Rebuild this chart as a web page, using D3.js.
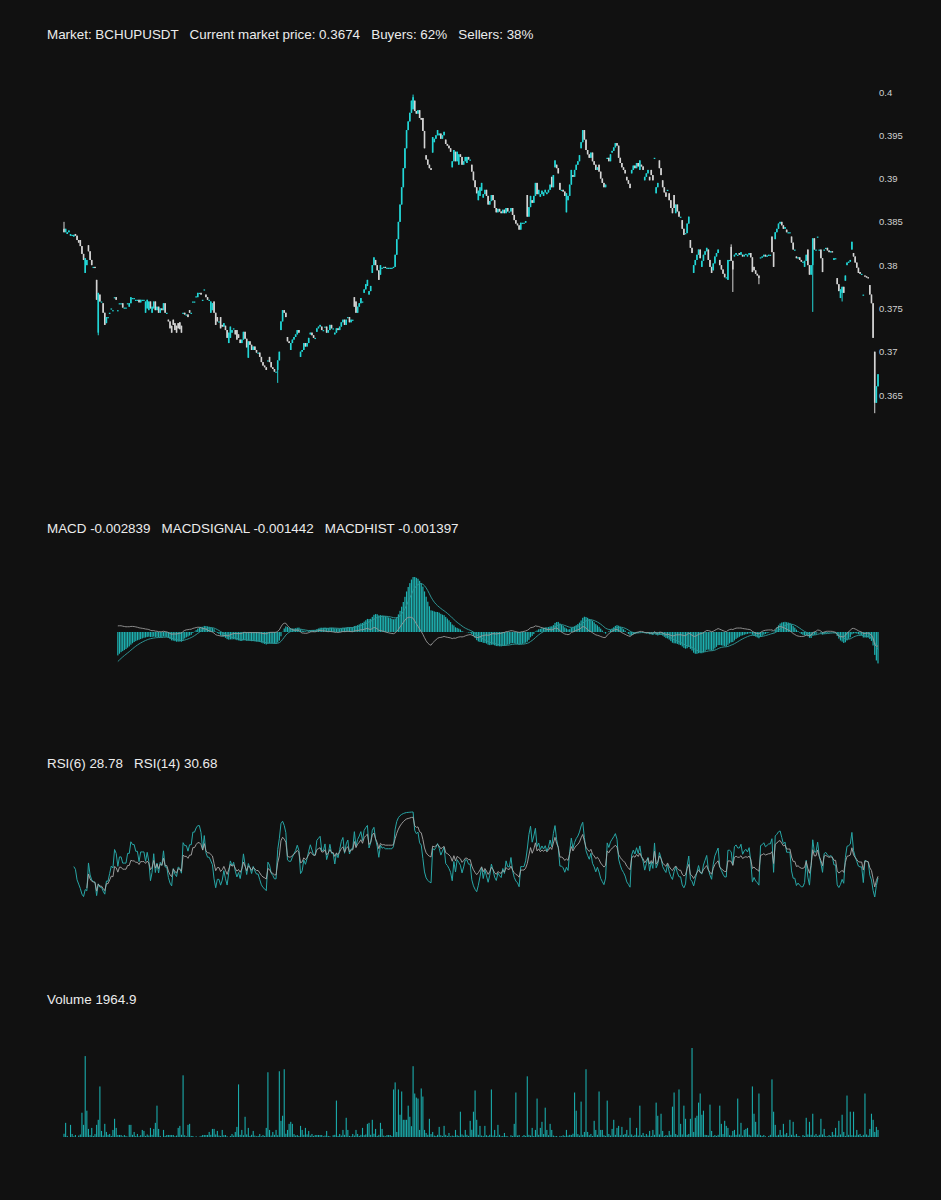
<!DOCTYPE html>
<html>
<head>
<meta charset="utf-8">
<script src="https://cdn.jsdelivr.net/npm/d3@7"></script>
<style>
  body { margin: 0; background: #111111; }
  text { font-family: "Liberation Sans", Arial, sans-serif; }
</style>
</head>
<body>
<div id="container"></div>
<script>
/* CONSTANTS AND GLOBALS */
const width = 941,
  height = 1200;

const upColor = "#22d6d6",
  downColor = "#d4d4d4",
  tealColor = "#1eb3b3",
  textColor = "#ececec";

/* DATA */
const market = "BCHUPUSDT";
const buyers = 62, sellers = 38;

// candle opens and closes, in units of 0.0001
const opens = [
  3842, 3838, 3836, 3838, 3834, 3835, 3833, 3836, 3834, 3829,
  3829, 3822, 3813, 3791, 3800, 3823, 3816, 3806, 3798, 3798,
  3783, 3722, 3766, 3758, 3756, 3745, 3733, 3740, 3745, 3750,
  3748, 3763, 3763, 3748, 3756, 3756, 3756, 3751, 3751, 3756,
  3752, 3756, 3762, 3762, 3760, 3760, 3760, 3757, 3760, 3760,
  3745, 3750, 3748, 3758, 3745, 3750, 3758, 3748, 3752, 3745,
  3750, 3748, 3756, 3745, 3737, 3735, 3730, 3737, 3733, 3730,
  3733, 3734, 3730, 3745, 3745, 3743, 3743, 3748, 3745, 3758,
  3758, 3764, 3763, 3768, 3768, 3760, 3772, 3766, 3763, 3760,
  3745, 3748, 3758, 3745, 3740, 3735, 3740, 3731, 3729, 3730,
  3725, 3710, 3716, 3722, 3727, 3725, 3725, 3720, 3714, 3710,
  3714, 3723, 3715, 3693, 3712, 3708, 3702, 3706, 3702, 3699,
  3699, 3694, 3688, 3684, 3682, 3690, 3694, 3688, 3682, 3680,
  3677, 3679, 3690, 3725, 3735, 3748, 3745, 3717, 3712, 3702,
  3710, 3714, 3717, 3720, 3725, 3694, 3700, 3702, 3710, 3706,
  3710, 3720, 3722, 3719, 3716, 3723, 3727, 3729, 3729, 3725,
  3729, 3729, 3722, 3725, 3731, 3727, 3720, 3722, 3727, 3725,
  3729, 3734, 3737, 3731, 3740, 3740, 3734, 3737, 3763, 3758,
  3745, 3752, 3756, 3758, 3768, 3772, 3776, 3766, 3770, 3791,
  3800, 3806, 3800, 3794, 3789, 3797, 3797, 3798, 3797, 3797,
  3797, 3797, 3797, 3798, 3812, 3830, 3850, 3870, 3890, 3912,
  3935, 3956, 3966, 3976, 3980, 3990, 3978, 3975, 3979, 3970,
  3970, 3955, 3927, 3922, 3916, 3912, 3930, 3942, 3946, 3950,
  3950, 3952, 3946, 3950, 3945, 3940, 3938, 3935, 3913, 3920,
  3931, 3920, 3916, 3928, 3925, 3916, 3920, 3918, 3925, 3922,
  3916, 3908, 3898, 3890, 3875, 3880, 3886, 3878, 3882, 3887,
  3880, 3870, 3874, 3881, 3875, 3866, 3861, 3865, 3862, 3860,
  3864, 3860, 3866, 3862, 3862, 3866, 3858, 3852, 3848, 3846,
  3841, 3849, 3849, 3849, 3881, 3856, 3867, 3875, 3872, 3880,
  3895, 3882, 3879, 3882, 3880, 3884, 3882, 3884, 3887, 3902,
  3890, 3913, 3916, 3912, 3895, 3887, 3887, 3885, 3861, 3875,
  3880, 3893, 3904, 3902, 3910, 3916, 3920, 3935, 3942, 3956,
  3945, 3933, 3928, 3924, 3930, 3920, 3916, 3910, 3916, 3908,
  3900, 3895, 3890, 3924, 3924, 3920, 3930, 3932, 3936, 3941,
  3938, 3924, 3918, 3913, 3910, 3902, 3898, 3894, 3906, 3910,
  3915, 3912, 3918, 3910, 3916, 3914, 3898, 3902, 3906, 3902,
  3910, 3904, 3924, 3883, 3890, 3921, 3912, 3898, 3890, 3884,
  3887, 3883, 3875, 3866, 3881, 3860, 3870, 3862, 3856, 3852,
  3842, 3837, 3837, 3848, 3829, 3820, 3791, 3800, 3806, 3812,
  3818, 3798, 3805, 3812, 3816, 3818, 3806, 3798, 3794, 3802,
  3810, 3814, 3806, 3800, 3795, 3790, 3786, 3783, 3806, 3821,
  3805, 3810, 3812, 3812, 3814, 3812, 3812, 3810, 3812, 3810,
  3812, 3814, 3809, 3798, 3794, 3790, 3788, 3809, 3809, 3810,
  3812, 3810, 3811, 3812, 3833, 3815, 3830, 3838, 3842, 3848,
  3850, 3846, 3842, 3841, 3838, 3838, 3833, 3826, 3818, 3810,
  3808, 3809, 3806, 3804, 3798, 3805, 3818, 3800, 3789, 3800,
  3831, 3818, 3833, 3818, 3818, 3808, 3818, 3820, 3820, 3817,
  3815, 3816, 3806, 3808, 3785, 3778, 3762, 3768, 3775, 3782,
  3800, 3803, 3804, 3818, 3814, 3810, 3803, 3797, 3792, 3790,
  3766, 3788, 3787, 3786, 3777, 3766, 3756, 3700, 3641, 3660
];

const closes = [
  3838, 3842, 3838, 3840, 3836, 3835, 3835, 3834, 3829, 3826,
  3822, 3813, 3806, 3808, 3806, 3816, 3806, 3800, 3798, 3797,
  3760, 3768, 3758, 3758, 3745, 3731, 3740, 3740, 3745, 3750,
  3748, 3763, 3760, 3748, 3756, 3756, 3751, 3751, 3751, 3756,
  3756, 3763, 3762, 3762, 3760, 3760, 3757, 3760, 3760, 3760,
  3758, 3760, 3758, 3750, 3752, 3758, 3748, 3752, 3745, 3750,
  3748, 3756, 3745, 3745, 3735, 3727, 3722, 3731, 3725, 3722,
  3727, 3726, 3722, 3745, 3743, 3743, 3740, 3745, 3745, 3758,
  3758, 3764, 3768, 3768, 3766, 3760, 3772, 3763, 3760, 3760,
  3758, 3756, 3745, 3731, 3735, 3735, 3727, 3729, 3733, 3725,
  3716, 3722, 3729, 3725, 3727, 3720, 3714, 3716, 3710, 3714,
  3723, 3715, 3705, 3712, 3708, 3702, 3706, 3702, 3699, 3699,
  3694, 3688, 3684, 3682, 3679, 3690, 3688, 3682, 3680, 3677,
  3677, 3690, 3700, 3735, 3748, 3745, 3740, 3712, 3710, 3710,
  3714, 3717, 3720, 3725, 3722, 3700, 3702, 3710, 3706, 3710,
  3716, 3722, 3719, 3716, 3716, 3727, 3729, 3731, 3725, 3725,
  3729, 3722, 3725, 3731, 3727, 3727, 3722, 3727, 3725, 3729,
  3734, 3737, 3731, 3737, 3740, 3734, 3737, 3737, 3752, 3745,
  3752, 3756, 3762, 3758, 3772, 3778, 3783, 3770, 3776, 3800,
  3809, 3800, 3794, 3783, 3800, 3797, 3798, 3797, 3797, 3797,
  3797, 3797, 3798, 3812, 3830, 3850, 3870, 3890, 3912, 3935,
  3956, 3966, 3976, 3990, 3994, 3978, 3975, 3979, 3970, 3968,
  3955, 3935, 3922, 3916, 3912, 3910, 3948, 3946, 3950, 3956,
  3952, 3946, 3950, 3954, 3940, 3938, 3935, 3931, 3920, 3933,
  3920, 3931, 3928, 3925, 3916, 3920, 3925, 3925, 3922, 3922,
  3908, 3898, 3890, 3883, 3886, 3890, 3895, 3882, 3887, 3880,
  3870, 3874, 3881, 3875, 3866, 3861, 3865, 3862, 3860, 3864,
  3860, 3866, 3862, 3862, 3866, 3858, 3852, 3848, 3846, 3841,
  3849, 3849, 3849, 3851, 3856, 3867, 3880, 3872, 3880, 3895,
  3882, 3887, 3882, 3886, 3884, 3887, 3884, 3887, 3893, 3890,
  3904, 3921, 3912, 3906, 3887, 3887, 3885, 3880, 3883, 3880,
  3893, 3910, 3902, 3910, 3916, 3920, 3927, 3942, 3956, 3945,
  3933, 3928, 3924, 3930, 3920, 3916, 3910, 3913, 3908, 3900,
  3895, 3890, 3893, 3924, 3920, 3928, 3932, 3936, 3941, 3938,
  3924, 3918, 3913, 3910, 3906, 3898, 3894, 3889, 3910, 3915,
  3912, 3918, 3914, 3921, 3914, 3910, 3902, 3906, 3910, 3898,
  3904, 3898, 3924, 3890, 3895, 3912, 3904, 3890, 3884, 3879,
  3887, 3875, 3866, 3860, 3866, 3870, 3862, 3856, 3856, 3842,
  3835, 3837, 3848, 3856, 3820, 3814, 3800, 3806, 3812, 3818,
  3808, 3805, 3812, 3816, 3820, 3806, 3798, 3791, 3802, 3810,
  3814, 3818, 3800, 3795, 3790, 3786, 3786, 3806, 3806, 3805,
  3795, 3812, 3814, 3812, 3812, 3815, 3810, 3812, 3813, 3812,
  3814, 3809, 3792, 3794, 3790, 3788, 3785, 3809, 3810, 3812,
  3810, 3811, 3812, 3812, 3815, 3798, 3838, 3842, 3848, 3850,
  3846, 3842, 3844, 3838, 3838, 3838, 3826, 3818, 3818, 3808,
  3809, 3806, 3804, 3804, 3805, 3812, 3800, 3789, 3800, 3831,
  3818, 3818, 3833, 3818, 3808, 3792, 3818, 3820, 3817, 3815,
  3816, 3815, 3808, 3808, 3778, 3770, 3772, 3775, 3768, 3788,
  3803, 3804, 3806, 3827, 3810, 3803, 3797, 3791, 3790, 3790,
  3766, 3787, 3786, 3785, 3766, 3756, 3716, 3641, 3660, 3674
];

// candles whose wicks stick out past the body: [index, price]
const highWicks = [[0, 3850], [214, 3997], [409, 3824]];
const lowWicks = [[21, 3719], [131, 3664], [410, 3769], [426, 3778],
  [459, 3746], [477, 3758], [497, 3629]];

const volumes = [
  900, 3920, 300, 0, 3360, 840, 200, 560, 0, 400,
  700, 6720, 3360, 22400, 7280, 2240, 500, 2520, 300, 800,
  3360, 4760, 14000, 1680, 400, 3640, 1400, 600, 840, 300,
  1960, 5040, 2520, 560, 560, 560, 200, 560, 300, 100,
  3360, 3360, 600, 1400, 300, 840, 200, 500, 1960, 1680,
  300, 700, 400, 2520, 600, 2240, 3920, 8680, 2240, 300,
  0, 1960, 300, 560, 560, 560, 560, 560, 200, 400,
  2520, 3080, 600, 17080, 500, 200, 3360, 3640, 300, 280,
  0, 200, 0, 100, 300, 560, 560, 560, 560, 1400,
  600, 2240, 2240, 700, 1680, 400, 300, 1960, 500, 560,
  200, 0, 300, 840, 400, 1400, 2800, 14560, 600, 1960,
  500, 5600, 700, 2520, 300, 600, 1680, 400, 200, 300,
  840, 200, 560, 300, 2520, 17920, 1960, 400, 1400, 600,
  1960, 500, 18200, 4480, 5880, 18760, 900, 1960, 3640, 4200,
  3640, 800, 400, 560, 300, 3080, 1960, 600, 2520, 700,
  1680, 400, 840, 300, 560, 560, 560, 560, 560, 200,
  400, 1680, 300, 200, 0, 500, 600, 10080, 300, 840,
  400, 1960, 600, 5320, 1960, 300, 200, 840, 400, 1960,
  840, 300, 600, 2520, 500, 700, 3640, 3920, 600, 4760,
  900, 2240, 300, 600, 3920, 2240, 400, 200, 560, 560,
  560, 300, 13160, 15120, 1400, 13160, 6160, 12600, 4760, 4760,
  4760, 8680, 5600, 3000, 19600, 12040, 10920, 10640, 1960, 13440,
  11200, 1960, 1120, 600, 5040, 800, 1400, 400, 300, 600,
  2800, 500, 300, 3080, 600, 300, 1120, 200, 400, 300,
  1960, 500, 300, 7000, 700, 400, 1960, 600, 300, 4480,
  2000, 7000, 12880, 4760, 600, 3080, 400, 300, 3080, 500,
  300, 600, 13160, 400, 1960, 300, 3360, 600, 200, 300,
  1120, 300, 200, 0, 500, 300, 3640, 12320, 400, 560,
  0, 200, 560, 300, 16800, 600, 400, 2520, 300, 1960,
  10640, 600, 2520, 4200, 800, 8120, 1960, 500, 3640, 1960,
  400, 200, 280, 0, 300, 200, 500, 300, 1960, 400,
  600, 560, 900, 12320, 7280, 800, 400, 9800, 600, 1400,
  18760, 1400, 500, 840, 300, 4480, 1960, 600, 12600, 1960,
  1960, 500, 300, 10080, 840, 400, 2240, 4760, 600, 2520,
  3080, 500, 2800, 600, 840, 1960, 400, 5320, 700, 300,
  600, 2520, 400, 8680, 500, 1120, 300, 840, 400, 1680,
  300, 1960, 600, 9520, 5880, 700, 6440, 1680, 300, 560,
  400, 1680, 600, 8400, 12320, 840, 500, 13160, 3640, 700,
  8680, 5040, 600, 840, 5040, 24640, 1400, 5320, 5880, 9520,
  12040, 6160, 7280, 600, 560, 400, 8960, 1680, 300, 560,
  300, 600, 8680, 3640, 800, 4480, 3080, 2520, 500, 400,
  1680, 1960, 600, 10640, 700, 3920, 400, 1960, 2240, 2520,
  600, 400, 14000, 6440, 4200, 700, 12040, 500, 300, 560,
  200, 0, 300, 600, 15960, 7000, 3360, 400, 600, 1960,
  500, 3640, 700, 1120, 300, 4760, 600, 4200, 400, 840,
  300, 200, 0, 560, 300, 5320, 700, 4200, 600, 6440,
  400, 840, 300, 600, 5040, 700, 2240, 300, 200, 560,
  300, 1400, 600, 2520, 400, 4480, 700, 6160, 1400, 300,
  11480, 600, 7000, 500, 7000, 400, 1960, 600, 840, 300,
  600, 12040, 700, 400, 2240, 6440, 4760, 1400, 2800, 1964.9
];

// latest indicator readings shown in the panel titles
const macdLatest = ["-0.002839", "-0.001442", "-0.001397"];
const rsiLatest = ["28.78", "30.68"];

const priceTicks = [0.365, 0.37, 0.375, 0.38, 0.385, 0.39, 0.395, 0.4];

/* BUILD CANDLES */
const prices = closes.map(d => d / 10000);
const candles = prices.map((c, i) => {
  const o = opens[i] / 10000;
  return { i, open: o, close: c, high: Math.max(o, c), low: Math.min(o, c) };
});
highWicks.forEach(([i, p]) => candles[i].high = p / 10000);
lowWicks.forEach(([i, p]) => candles[i].low = p / 10000);

/* INDICATORS */
// EMA seeded with the mean of its first n values
function ema(values, n, start) {
  const out = values.map(() => null);
  const k = 2 / (n + 1);
  let prev = d3.mean(values.slice(start, start + n));
  out[start + n - 1] = prev;
  for (let i = start + n; i < values.length; i++) {
    prev = values[i] * k + prev * (1 - k);
    out[i] = prev;
  }
  return out;
}

function rsi(values, n) {
  const out = values.map(() => null);
  let gain = 0, loss = 0;
  for (let i = 1; i <= n; i++) {
    const ch = values[i] - values[i - 1];
    if (ch > 0) gain += ch; else loss -= ch;
  }
  gain /= n; loss /= n;
  out[n] = loss === 0 ? 100 : 100 - 100 / (1 + gain / loss);
  for (let i = n + 1; i < values.length; i++) {
    const ch = values[i] - values[i - 1];
    gain = (gain * (n - 1) + Math.max(ch, 0)) / n;
    loss = (loss * (n - 1) + Math.max(-ch, 0)) / n;
    out[i] = loss === 0 ? 100 : 100 - 100 / (1 + gain / loss);
  }
  return out;
}

const fast = ema(prices, 12, 0),
  slow = ema(prices, 26, 0);
const macdRaw = prices.map((p, i) => (slow[i] == null ? null : fast[i] - slow[i]));
const signalRaw = ema(macdRaw, 9, 25);
const firstMacd = 33;
const macd = macdRaw.map((v, i) => (i < firstMacd ? null : v));
const signal = signalRaw.map((v, i) => (i < firstMacd ? null : v));
const hist = macd.map((v, i) => (v == null ? null : v - signal[i]));

const rsi6 = rsi(closes, 6),
  rsi14 = rsi(closes, 14);

/* SVG */
const svg = d3.select("#container")
  .append("svg")
  .attr("width", width)
  .attr("height", height)
  .style("background", "#111111");

const x = d3.scaleLinear()
  .domain([0, closes.length - 1])
  .range([64, 878]);

// titles
const titles = [
  { y: 39, text: `Market: ${market}   Current market price: ${prices[prices.length - 1].toFixed(4)}   Buyers: ${buyers}%   Sellers: ${sellers}%` },
  { y: 533, text: `MACD ${macdLatest[0]}   MACDSIGNAL ${macdLatest[1]}   MACDHIST ${macdLatest[2]}` },
  { y: 768, text: `RSI(6) ${rsiLatest[0]}   RSI(14) ${rsiLatest[1]}` },
  { y: 1004, text: `Volume ${volumes[volumes.length - 1]}` }
];
svg.selectAll(".title")
  .data(titles)
  .join("text")
  .attr("class", "title")
  .attr("x", 47)
  .attr("y", d => d.y)
  .attr("fill", textColor)
  .style("font-size", "13.4px")
  .style("white-space", "pre")
  .text(d => d.text);

/* PRICE PANEL */
const yPrice = d3.scaleLinear()
  .domain([0.365, 0.4])
  .range([395, 92]);

const priceAxis = svg.append("g")
  .attr("transform", "translate(878,0)")
  .call(d3.axisRight(yPrice)
    .tickValues(priceTicks)
    .tickSize(0)
    .tickPadding(1)
    .tickFormat(d => String(+d.toFixed(3))));
priceAxis.select(".domain").remove();
priceAxis.selectAll("text")
  .attr("fill", "#d0d0d0")
  .style("font-size", "9.5px")
  .style("font-family", "Liberation Sans, Arial, sans-serif");

const candle = svg.append("g").attr("class", "candles")
  .selectAll("g")
  .data(candles)
  .join("g")
  .attr("fill", d => (d.close >= d.open ? upColor : downColor))
  .attr("stroke", d => (d.close >= d.open ? upColor : downColor));

candle.append("line")
  .attr("x1", d => x(d.i))
  .attr("x2", d => x(d.i))
  .attr("y1", d => yPrice(d.high))
  .attr("y2", d => yPrice(d.low))
  .attr("stroke-width", 1);

candle.append("rect")
  .attr("stroke", "none")
  .attr("x", d => x(d.i) - 0.8)
  .attr("width", 1.6)
  .attr("y", d => yPrice(Math.max(d.open, d.close)))
  .attr("height", d => Math.max(1.2, yPrice(Math.min(d.open, d.close)) - yPrice(Math.max(d.open, d.close))));

/* MACD PANEL */
const yMacd = d3.scaleLinear()
  .domain([0, d3.max(macd)])
  .range([632, 577]);

svg.append("g")
  .selectAll("rect")
  .data(macd.map((v, i) => ({ i, v })).filter(d => d.v != null))
  .join("rect")
  .attr("x", d => x(d.i) - 0.6)
  .attr("width", 1.2)
  .attr("y", d => Math.min(yMacd(0), yMacd(d.v)))
  .attr("height", d => Math.abs(yMacd(d.v) - yMacd(0)))
  .attr("fill", tealColor);

const macdLine = d3.line()
  .defined(d => d != null)
  .x((d, i) => x(i))
  .y(d => yMacd(d));

svg.append("path")
  .attr("d", macdLine(signal))
  .attr("fill", "none")
  .attr("stroke", "#2f9393")
  .attr("stroke-width", 1);

svg.append("path")
  .attr("d", macdLine(hist))
  .attr("fill", "none")
  .attr("stroke", "#9a9a9a")
  .attr("stroke-width", 0.9);

/* RSI PANEL */
const yRsi = d3.scaleLinear()
  .domain(d3.extent(rsi6.concat(rsi14).filter(d => d != null)))
  .range([897, 812]);

const rsiLine = d3.line()
  .defined(d => d != null)
  .x((d, i) => x(i))
  .y(d => yRsi(d));

svg.append("path")
  .attr("d", rsiLine(rsi6))
  .attr("fill", "none")
  .attr("stroke", "#27a6a6")
  .attr("stroke-width", 1);

svg.append("path")
  .attr("d", rsiLine(rsi14))
  .attr("fill", "none")
  .attr("stroke", "#a9a9a9")
  .attr("stroke-width", 0.9);

/* VOLUME PANEL */
const yVol = d3.scaleLinear()
  .domain([0, d3.max(volumes)])
  .range([1137, 1048]);

svg.append("g")
  .selectAll("rect")
  .data(volumes)
  .join("rect")
  .attr("x", (d, i) => x(i) - 0.55)
  .attr("width", 1.1)
  .attr("y", d => yVol(d))
  .attr("height", d => yVol(0) - yVol(d))
  .attr("fill", "#1aabab");
</script>
</body>
</html>
